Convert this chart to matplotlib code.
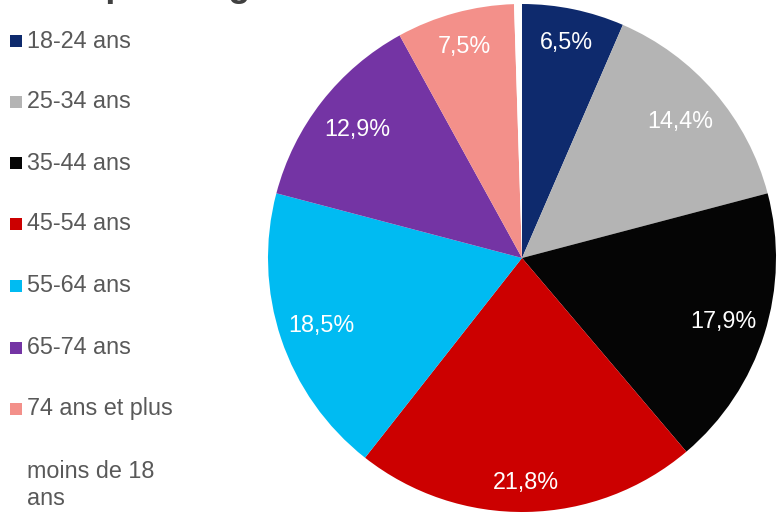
import numpy as np
import matplotlib.pyplot as plt
from matplotlib.patches import Rectangle

plt.rcParams['font.family'] = ['Liberation Sans', 'DejaVu Sans']

# données
categories = ['18-24 ans', '25-34 ans', '35-44 ans', '45-54 ans',
              '55-64 ans', '65-74 ans', '74 ans et plus', 'moins de 18\nans']
values = [6.5, 14.4, 17.9, 21.8, 18.5, 12.9, 7.5, 0.5]
value_labels = ['6,5%', '14,4%', '17,9%', '21,8%', '18,5%', '12,9%', '7,5%', '']
colors = ['#0e2a6d', '#b4b4b4', '#050505', '#cc0000',
          '#00bbf2', '#7434a4', '#f3908a', '#ffffff']
title = "Groupes d'âge"

W, H = 783, 517
fig = plt.figure(figsize=(W / 100, H / 100), dpi=100)

# titre coupé en haut de l'image
fig.text(19 / W, 1 + 4.5 / H, title, fontsize=26, fontweight='bold',
         color='#404040', ha='left', va='baseline')

# camembert
cx, cy, r = 522, 258, 254
ax = fig.add_axes([(cx - r) / W, (H - cy - r) / H, 2 * r / W, 2 * r / H])
wedges, _ = ax.pie(values, colors=colors, startangle=90, counterclock=False,
                   radius=1, wedgeprops=dict(linewidth=0))
ax.set_xlim(-1, 1)
ax.set_ylim(-1, 1)
ax.set_aspect('equal')
ax.axis('off')

# étiquettes "bout intérieur" : la boîte du texte touche presque le bord
fig.canvas.draw()
renderer = fig.canvas.get_renderer()
for w, lab in zip(wedges, value_labels):
    if not lab:
        continue
    ang = np.deg2rad((w.theta1 + w.theta2) / 2)
    t = ax.text(0, 0, lab, color='white', fontsize=16.8, ha='center', va='center')
    bb = t.get_window_extent(renderer)
    hw, hh = bb.width / 2, 26
    proj = abs(np.cos(ang)) * hw + abs(np.sin(ang)) * hh
    d = (r - 3 - proj) / r
    t.set_position((d * np.cos(ang), d * np.sin(ang)))

# légende
y_rows = [41, 102, 163, 224, 286, 348, 409, 460]
for lab, col, y in zip(categories, colors, y_rows):
    multi = '\n' in lab
    yc = y if not multi else y + 9
    fig.patches.append(Rectangle((10 / W, (H - yc - 6) / H), 12 / W, 12 / H,
                                 transform=fig.transFigure, facecolor=col,
                                 edgecolor='none'))
    fig.text(27 / W, (H - y) / H, lab, fontsize=16.8, color='#595959',
             ha='left', va='top' if multi else 'center')

fig.savefig('out.png', dpi=100)
